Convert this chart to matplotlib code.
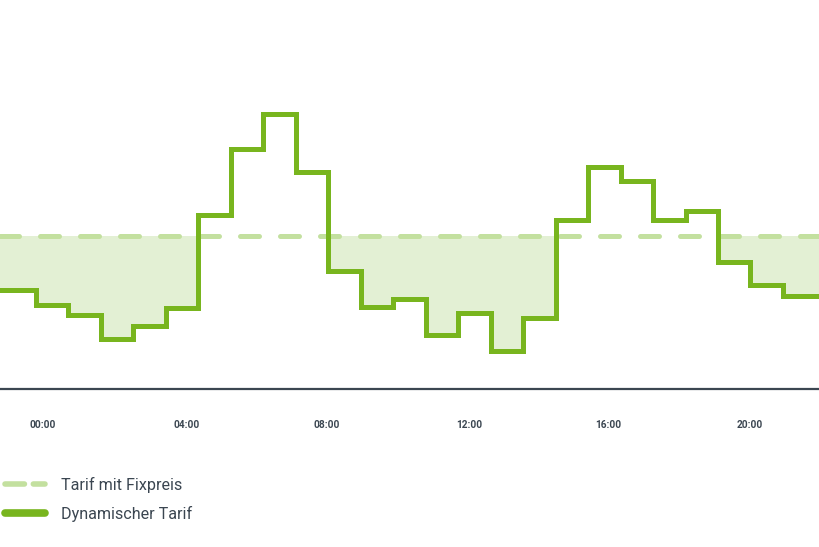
import numpy as np
import matplotlib
matplotlib.use("Agg")
import matplotlib.pyplot as plt
from matplotlib.lines import Line2D

# price per hour slot (arbitrary units)
dynamic = [19.8, 16.8, 14.8, 10.0, 12.6, 16.2, 34.8, 48.0, 55.0, 43.4,
           23.6, 16.4, 18.0, 10.8, 15.2, 7.6, 14.2, 33.8, 44.4, 41.6,
           33.8, 35.6, 25.4, 20.8, 18.6]
fixed = 30.6
tick_pos = [1.2, 5.65, 9.95, 14.33, 18.63, 22.97]
tick_labels = ["00:00", "04:00", "08:00", "12:00", "16:00", "20:00"]

green = "#78b51e"
light_green = "#c3e09f"
fill_green = "#e3f0d4"
dark = "#3b4651"

plt.rcParams["font.family"] = ["Roboto", "DejaVu Sans"]

fig = plt.figure(figsize=(8.2, 5.47), dpi=100)
ax = fig.add_axes([0, 158 / 547, 1, 389 / 547])

# slot edges; the open ends run past the visible area and get clipped
x = np.arange(len(dynamic) + 1, dtype=float)
x[0] -= 1
x[-1] += 1
y = np.r_[dynamic, dynamic[-1]]

lower = np.minimum(y, fixed)
ax.fill_between(x, lower, fixed, step="post", color=fill_green, lw=0, zorder=1)
ax.axhline(fixed, color=light_green, lw=3.6, dashes=(3.8, 4.2),
           dash_capstyle="round", zorder=2)
ax.step(x, y, where="post", color=green, lw=3.6, solid_joinstyle="miter", zorder=3)

ax.set_xlim(-0.108, 25.14)
ax.set_ylim(0, 389 / 5)
for s in ["top", "left", "right"]:
    ax.spines[s].set_visible(False)
ax.spines["bottom"].set_color(dark)
ax.spines["bottom"].set_linewidth(1.6)
ax.set_yticks([])
ax.set_xticks(tick_pos)
ax.set_xticklabels(tick_labels, fontsize=7.3, fontweight="semibold", color=dark)
ax.tick_params(axis="x", length=0, pad=22)

handles = [
    Line2D([], [], color=light_green, lw=4, dashes=(3.5, 1.6), dash_capstyle="round"),
    Line2D([], [], color=green, lw=5.5, solid_capstyle="round"),
]
fig.legend(handles, ["Tarif mit Fixpreis", "Dynamischer Tarif"],
           loc="upper left", bbox_to_anchor=(0.006, 1 - 477 / 547),
           frameon=False, fontsize=11.6, labelcolor=dark,
           handlelength=2.5, handletextpad=0.95, labelspacing=0.78,
           borderaxespad=0, borderpad=0)

fig.savefig("out.png", dpi=100)
